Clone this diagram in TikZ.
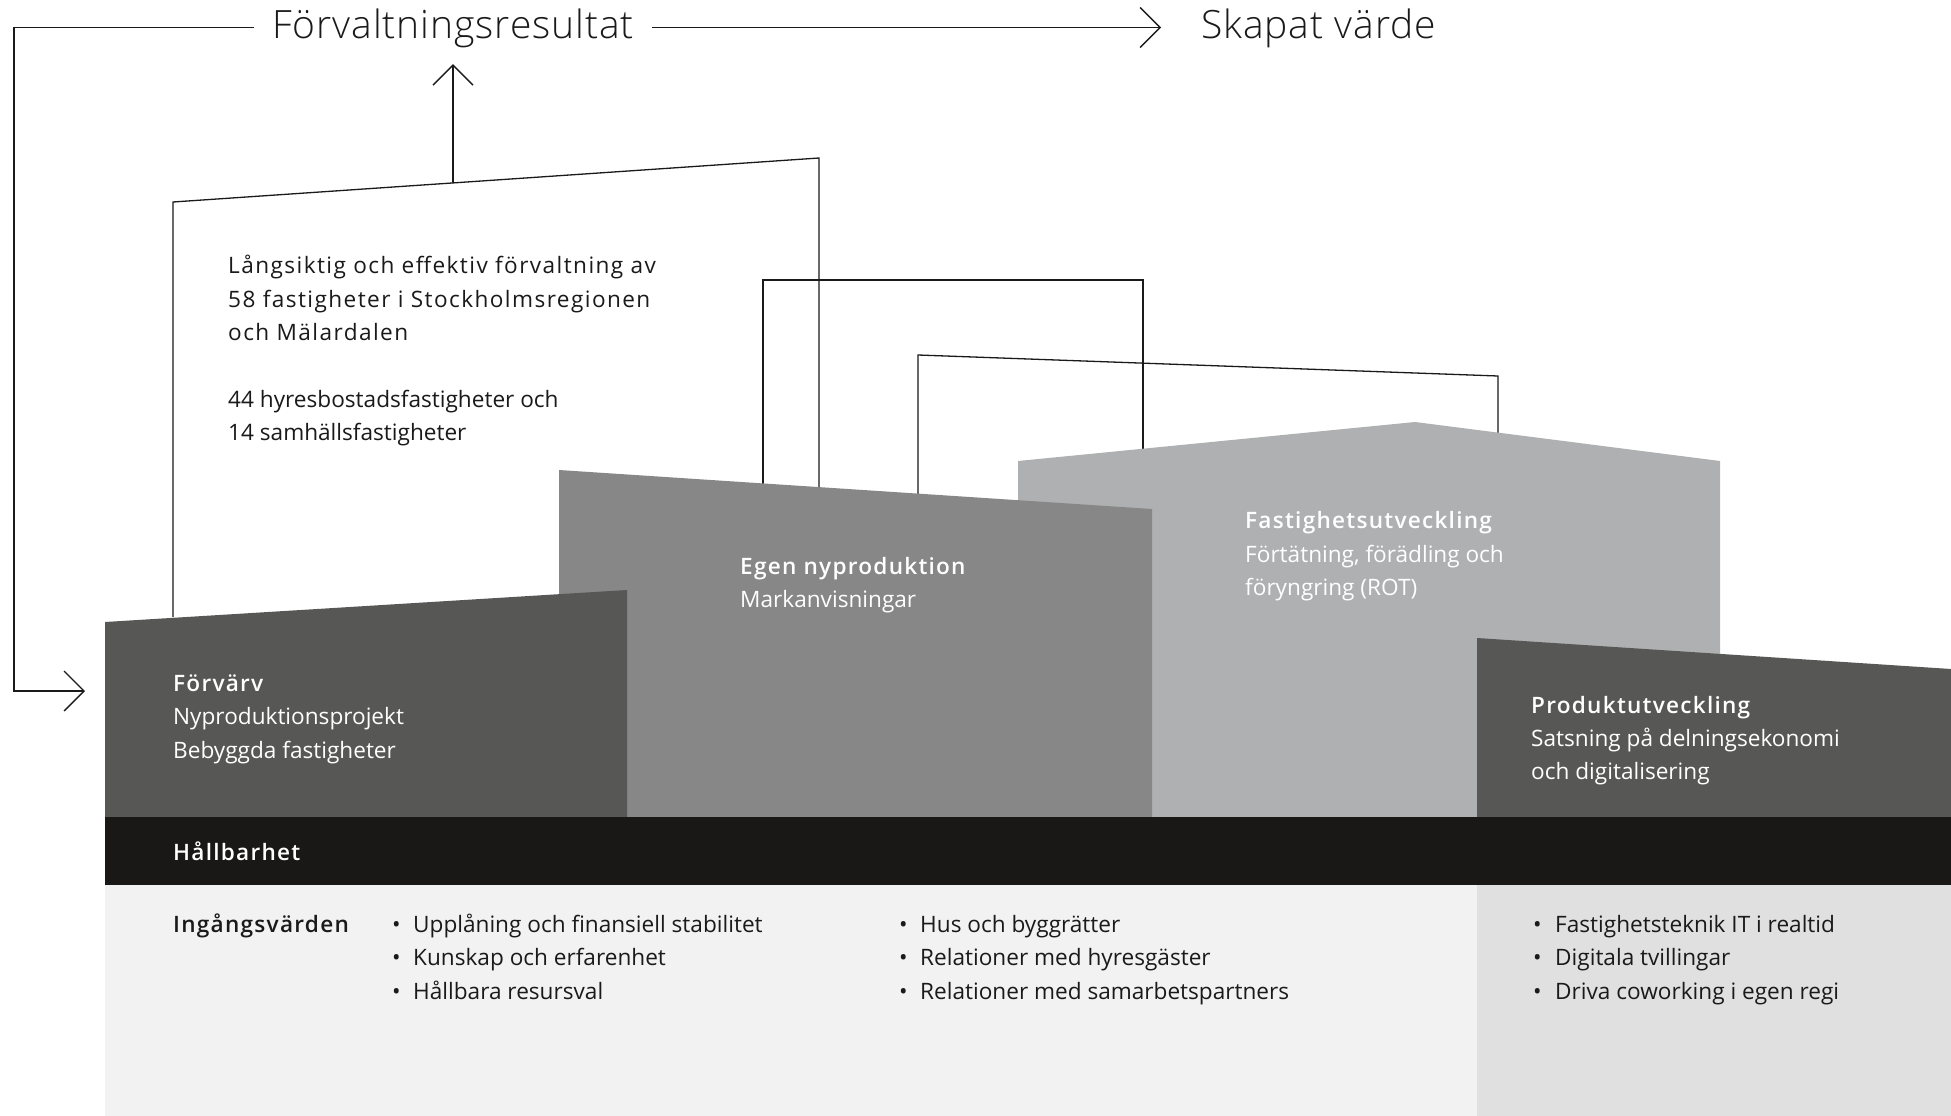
\documentclass[tikz,border=0pt]{standalone}
\usepackage{fontspec}
\setmainfont{Open Sans}[BoldFont={Open Sans Semibold}]
\newfontfamily\lightfont{Open Sans Light}[LetterSpace=2.4]
\usetikzlibrary{arrows.meta,calc}
\definecolor{ink}{HTML}{1A1A1A}
\definecolor{cFor}{HTML}{575756}
\definecolor{cEgen}{HTML}{878787}
\definecolor{cFast}{HTML}{AFB0B1}
\definecolor{cProd}{HTML}{575755}
\definecolor{cBand}{HTML}{1A1817}
\definecolor{cLow}{HTML}{F2F2F2}
\definecolor{cLowR}{HTML}{E0E0E0}
\begin{document}
\begin{tikzpicture}[x=1pt,y=-1pt,
  conn/.style={draw=ink,line width=1.3pt},
  arr/.style={conn,-{Straight Barb[length=20pt,width=40pt,line width=1.3pt]}},
  body/.style={anchor=base west,inner sep=0pt,text=ink,font=\fontsize{22.6}{33.5}\selectfont},
  wide/.style={body,font=\fontsize{22.6}{33.5}\selectfont\addfontfeatures{LetterSpace=6.3}},
  wbody/.style={body,text=white},
  bbody/.style={body,font=\fontsize{22.6}{33.5}\selectfont\bfseries\addfontfeatures{LetterSpace=5.5}},
  wbold/.style={bbody,text=white},
  title/.style={anchor=base west,inner ysep=25pt,text height=23pt,text depth=0pt,text=ink,font=\lightfont\fontsize{39}{42}\selectfont}]
\useasboundingbox (0,0) rectangle (1951,1116);
\fill[white] (0,0) rectangle (1951,1116);

% ---- titles
\node[title,inner xsep=18pt] (fr) at (254,39) {Förvaltningsresultat};
\node[title,inner xsep=40pt] (sv) at (1161,39) {Skapat värde};
\draw[arr] (fr.east) -- (sv.west);

% ---- frame coordinates
\coordinate (f1a) at (173,617);
\coordinate (f1b) at (173,202);
\coordinate (f1c) at (819,158);
\coordinate (f1d) at (819,490);
\coordinate (f1m) at ($(f1b)!0.4334!(f1c)$);
\coordinate (f2a) at (763,486);
\coordinate (f2b) at (763,280);
\coordinate (f2c) at (1143,280);
\coordinate (f2d) at (1143,452);
\coordinate (f3a) at (918,497);
\coordinate (f3b) at (918,355);
\coordinate (f3c) at (1498,376);
\coordinate (f3d) at (1498,436);
\coordinate (loopx) at (14,0);
\coordinate (fvin) at (85,691);

\draw[conn] (f1a) -- (f1b) -- (f1c) -- (f1d);
\draw[arr] (f1m) -- (f1m |- fr.south);
\draw[conn] (f2a) -- (f2b) -- (f2c) -- (f2d);
\draw[conn] (f3a) -- (f3b) -- (f3c) -- (f3d);
\draw[arr] (fr.west) -- (loopx |- fr.west) -- (loopx |- fvin) -- (fvin);

% ---- blocks
\fill[cFast] (1018,461) -- (1415,422) -- (1720,461) -- (1720,817) -- (1018,817) -- cycle;
\fill[cEgen] (559,470) -- (1152,509) -- (1152,817) -- (559,817) -- cycle;
\fill[cFor] (105,622) -- (627,590) -- (627,817) -- (105,817) -- cycle;
\fill[cProd] (1477,638) -- (1951,669) -- (1951,817) -- (1477,817) -- cycle;
\fill[cBand] (105,817) rectangle (1951,885);
\fill[cLow] (105,885) rectangle (1477,1116);
\fill[cLowR] (1477,885) rectangle (1951,1116);

% ---- top paragraph
\node[wide] (p1) at (228,273) {Långsiktig och effektiv förvaltning av};
\node[wide] (p2) at (228,307) {58 fastigheter i Stockholmsregionen};
\node[wide] (p3) at (228,340) {och Mälardalen};
\node[body] (p4) at (228,407) {44 hyresbostadsfastigheter och};
\node[body] (p5) at (228,440) {14 samhällsfastigheter};

% ---- block texts
\node[wbold] (fv1) at (173,691) {Förvärv};
\node[wbody] (fv2) at (173,724) {Nyproduktionsprojekt};
\node[wbody] (fv3) at (173,758) {Bebyggda fastigheter};

\node[wbold] (eg1) at (740,574) {Egen nyproduktion};
\node[wbody] (eg2) at (740,607) {Markanvisningar};

\node[wbold] (fa1) at (1245,528) {Fastighetsutveckling};
\node[wbody] (fa2) at (1245,562) {Förtätning, förädling och};
\node[wbody] (fa3) at (1245,595) {föryngring (ROT)};

\node[wbold] (pr1) at (1531,713) {Produktutveckling};
\node[wbody] (pr2) at (1531,746) {Satsning på delningsekonomi};
\node[wbody] (pr3) at (1531,779) {och digitalisering};

\node[wbold] (hb) at (173,860) {Hållbarhet};

% ---- inputs
\node[bbody] (iv) at (173,932) {Ingångsvärden};
\foreach \n/\bx/\tx/\y/\t in {
  a1/392/413/932/{Upplåning och finansiell stabilitet},
  a2/392/413/965.5/{Kunskap och erfarenhet},
  a3/392/413/999/{Hållbara resursval},
  b1/899/920/932/{Hus och byggrätter},
  b2/899/920/965.5/{Relationer med hyresgäster},
  b3/899/920/999/{Relationer med samarbetspartners},
  c1/1533/1555/932/{Fastighetsteknik IT i realtid},
  c2/1533/1555/965.5/{Digitala tvillingar},
  c3/1533/1555/999/{Driva coworking i egen regi}}{
  \node[body] (bu\n) at (\bx,\y) {•};
  \node[body] (it\n) at (\tx,\y) {\t};
}
\end{tikzpicture}
\end{document}
